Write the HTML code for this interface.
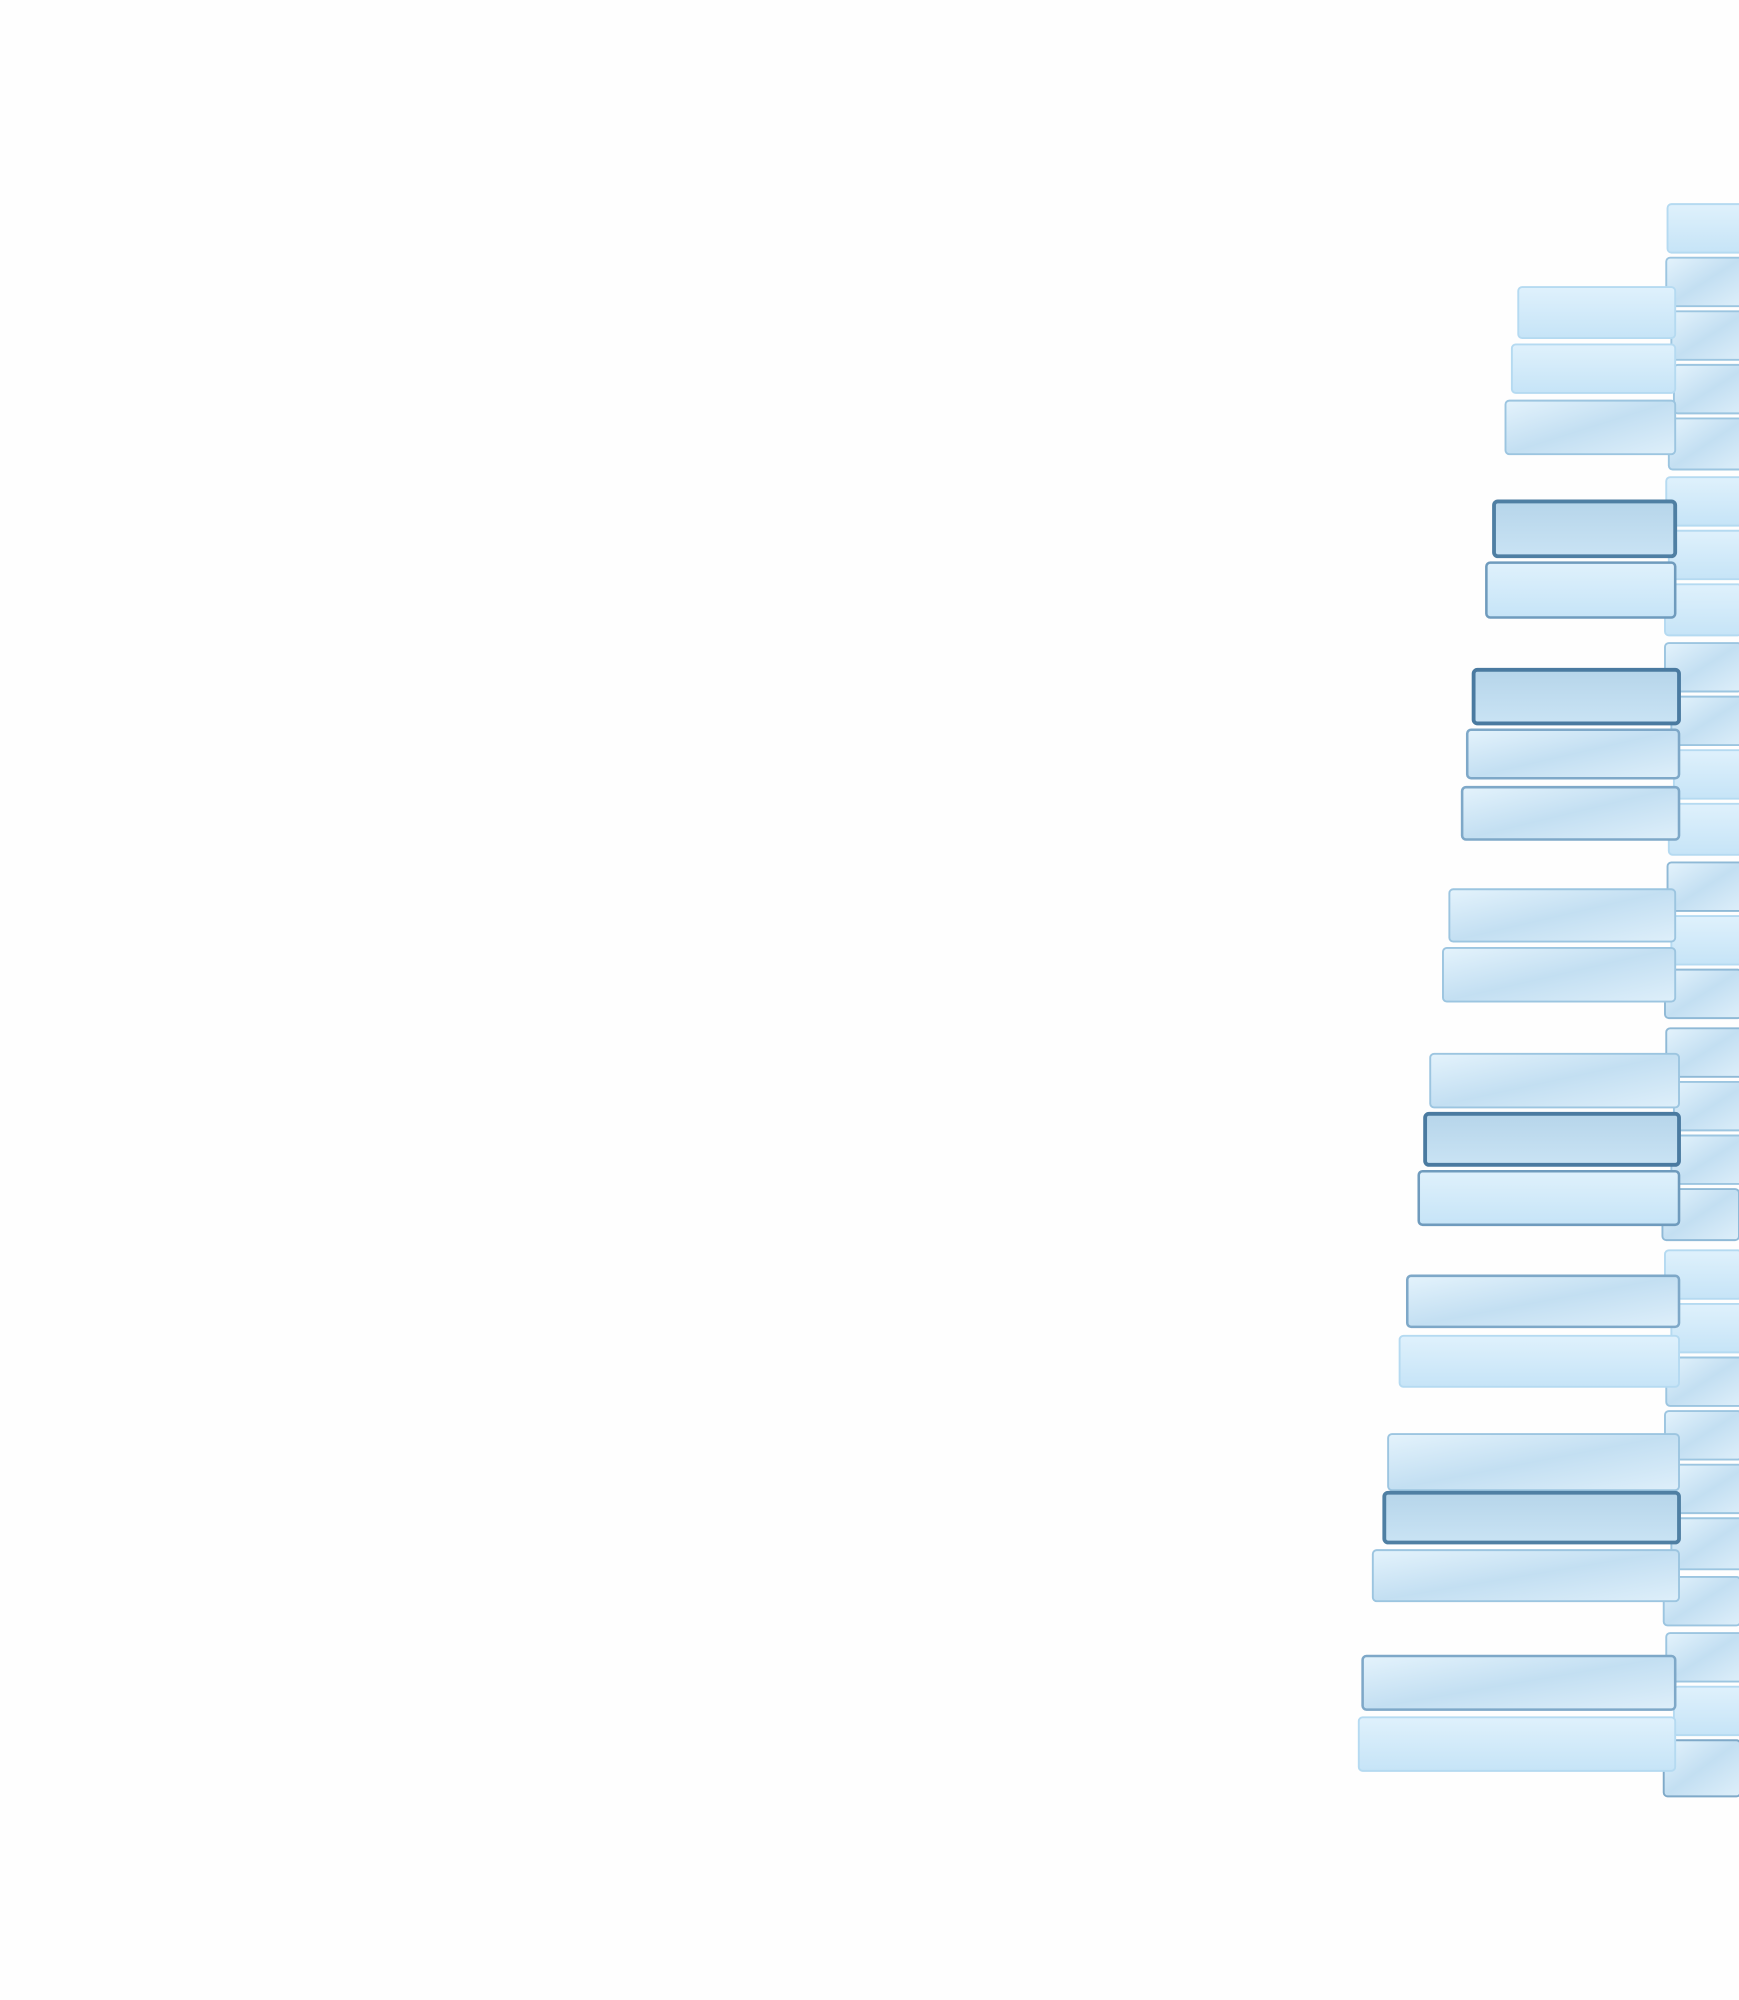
<!DOCTYPE html>
<html><head><meta charset="utf-8"><style>html,body{margin:0;padding:0;background:#fefefe;}svg{display:block}</style></head>
<body>
<svg width="1739" height="2000" viewBox="0 0 1363 1567.6" xmlns="http://www.w3.org/2000/svg">
<defs>
<linearGradient id="lt" x1="0" y1="0" x2="0" y2="1"><stop offset="0" stop-color="#dff1fc"/><stop offset="1" stop-color="#c6e4f7"/></linearGradient>
<linearGradient id="tx" x1="0" y1="0" x2="1" y2="1"><stop offset="0" stop-color="#e4f3fc"/><stop offset="0.5" stop-color="#c3dff2"/><stop offset="1" stop-color="#deeffa"/></linearGradient>
<linearGradient id="dk" x1="0" y1="0" x2="0" y2="1"><stop offset="0" stop-color="#b6d5ea"/><stop offset="1" stop-color="#c9e3f4"/></linearGradient>
</defs>
<g stroke-width="1.5">
<!-- right column -->
<rect x="1307" y="160" width="60" height="38" rx="3" fill="url(#lt)" stroke="#b5daf1"/>
<rect x="1306" y="202" width="60" height="38" rx="3" fill="url(#tx)" stroke="#9cc5e0"/>
<rect x="1310" y="244" width="60" height="38" rx="3" fill="url(#tx)" stroke="#9cc5e0"/>
<rect x="1312" y="286" width="60" height="38" rx="3" fill="url(#tx)" stroke="#9cc5e0"/>
<rect x="1308" y="328" width="60" height="40" rx="3" fill="url(#tx)" stroke="#9cc5e0"/>
<rect x="1306" y="374" width="60" height="38" rx="3" fill="url(#lt)" stroke="#b5daf1"/>
<rect x="1308" y="416" width="60" height="38" rx="3" fill="url(#lt)" stroke="#b5daf1"/>
<rect x="1305" y="458" width="60" height="40" rx="3" fill="url(#lt)" stroke="#b5daf1"/>
<rect x="1305" y="504" width="60" height="38" rx="3" fill="url(#tx)" stroke="#9cc5e0"/>
<rect x="1310" y="546" width="60" height="38" rx="3" fill="url(#tx)" stroke="#9cc5e0"/>
<rect x="1312" y="588" width="60" height="38" rx="3" fill="url(#lt)" stroke="#b5daf1"/>
<rect x="1308" y="630" width="60" height="40" rx="3" fill="url(#lt)" stroke="#b5daf1"/>
<rect x="1307" y="676" width="60" height="38" rx="3" fill="url(#tx)" stroke="#8fb9d6"/>
<rect x="1310" y="718" width="60" height="38" rx="3" fill="url(#lt)" stroke="#b5daf1"/>
<rect x="1305" y="760" width="60" height="38" rx="3" fill="url(#tx)" stroke="#8fb9d6"/>
<rect x="1306" y="806" width="60" height="38" rx="3" fill="url(#tx)" stroke="#8fb9d6"/>
<rect x="1312" y="848" width="60" height="38" rx="3" fill="url(#tx)" stroke="#9cc5e0"/>
<rect x="1310" y="890" width="60" height="38" rx="3" fill="url(#tx)" stroke="#9cc5e0"/>
<rect x="1303" y="932" width="60" height="40" rx="3" fill="url(#tx)" stroke="#8fb9d6"/>
<rect x="1305" y="980" width="60" height="38" rx="3" fill="url(#lt)" stroke="#b5daf1"/>
<rect x="1310" y="1022" width="60" height="38" rx="3" fill="url(#lt)" stroke="#b5daf1"/>
<rect x="1306" y="1064" width="60" height="38" rx="3" fill="url(#tx)" stroke="#9cc5e0"/>
<rect x="1305" y="1106" width="60" height="38" rx="3" fill="url(#tx)" stroke="#9cc5e0"/>
<rect x="1312" y="1148" width="60" height="38" rx="3" fill="url(#tx)" stroke="#9cc5e0"/>
<rect x="1310" y="1190" width="60" height="40" rx="3" fill="url(#tx)" stroke="#9cc5e0"/>
<rect x="1304" y="1236" width="60" height="38" rx="3" fill="url(#tx)" stroke="#9cc5e0"/>
<rect x="1306" y="1280" width="60" height="38" rx="3" fill="url(#tx)" stroke="#9cc5e0"/>
<rect x="1312" y="1322" width="60" height="38" rx="3" fill="url(#lt)" stroke="#b5daf1"/>
<rect x="1304" y="1364" width="60" height="44" rx="3" fill="url(#tx)" stroke="#7fa9c8"/>
<!-- left column -->
<rect x="1190" y="225" width="123" height="40" rx="3" fill="url(#lt)" stroke="#b5daf1"/>
<rect x="1185" y="270" width="128" height="38" rx="3" fill="url(#lt)" stroke="#b5daf1"/>
<rect x="1180" y="314" width="133" height="42" rx="3" fill="url(#tx)" stroke="#9cc5e0"/>
<rect x="1171" y="393" width="142" height="43" rx="3" fill="url(#dk)" stroke="#4f7fa3" stroke-width="3"/>
<rect x="1165" y="441" width="148" height="43" rx="3" fill="url(#lt)" stroke="#6f9bbd" stroke-width="2"/>
<rect x="1155" y="525" width="161" height="42" rx="3" fill="url(#dk)" stroke="#4a7aa0" stroke-width="3"/>
<rect x="1150" y="572" width="166" height="38" rx="3" fill="url(#tx)" stroke="#7ea8c8" stroke-width="2"/>
<rect x="1146" y="617" width="170" height="41" rx="3" fill="url(#tx)" stroke="#7ea8c8" stroke-width="2"/>
<rect x="1136" y="697" width="177" height="41" rx="3" fill="url(#tx)" stroke="#9cc5e0"/>
<rect x="1131" y="743" width="182" height="42" rx="3" fill="url(#tx)" stroke="#9cc5e0"/>
<rect x="1121" y="826" width="195" height="42" rx="3" fill="url(#tx)" stroke="#9cc5e0"/>
<rect x="1117" y="873" width="199" height="40" rx="3" fill="url(#dk)" stroke="#4a7aa0" stroke-width="3"/>
<rect x="1112" y="918" width="204" height="42" rx="3" fill="url(#lt)" stroke="#6f9bbd" stroke-width="2"/>
<rect x="1103" y="1000" width="213" height="40" rx="3" fill="url(#tx)" stroke="#7ea8c8" stroke-width="2"/>
<rect x="1097" y="1047" width="219" height="40" rx="3" fill="url(#lt)" stroke="#b5daf1"/>
<rect x="1088" y="1124" width="228" height="44" rx="3" fill="url(#tx)" stroke="#9cc5e0"/>
<rect x="1085" y="1170" width="231" height="39" rx="3" fill="url(#dk)" stroke="#4f7fa3" stroke-width="3"/>
<rect x="1076" y="1215" width="240" height="40" rx="3" fill="url(#tx)" stroke="#9cc5e0"/>
<rect x="1068" y="1298" width="245" height="42" rx="3" fill="url(#tx)" stroke="#7ea8c8" stroke-width="2"/>
<rect x="1065" y="1346" width="248" height="42" rx="3" fill="url(#lt)" stroke="#b5daf1"/>
</g>
</svg>
</body></html>
